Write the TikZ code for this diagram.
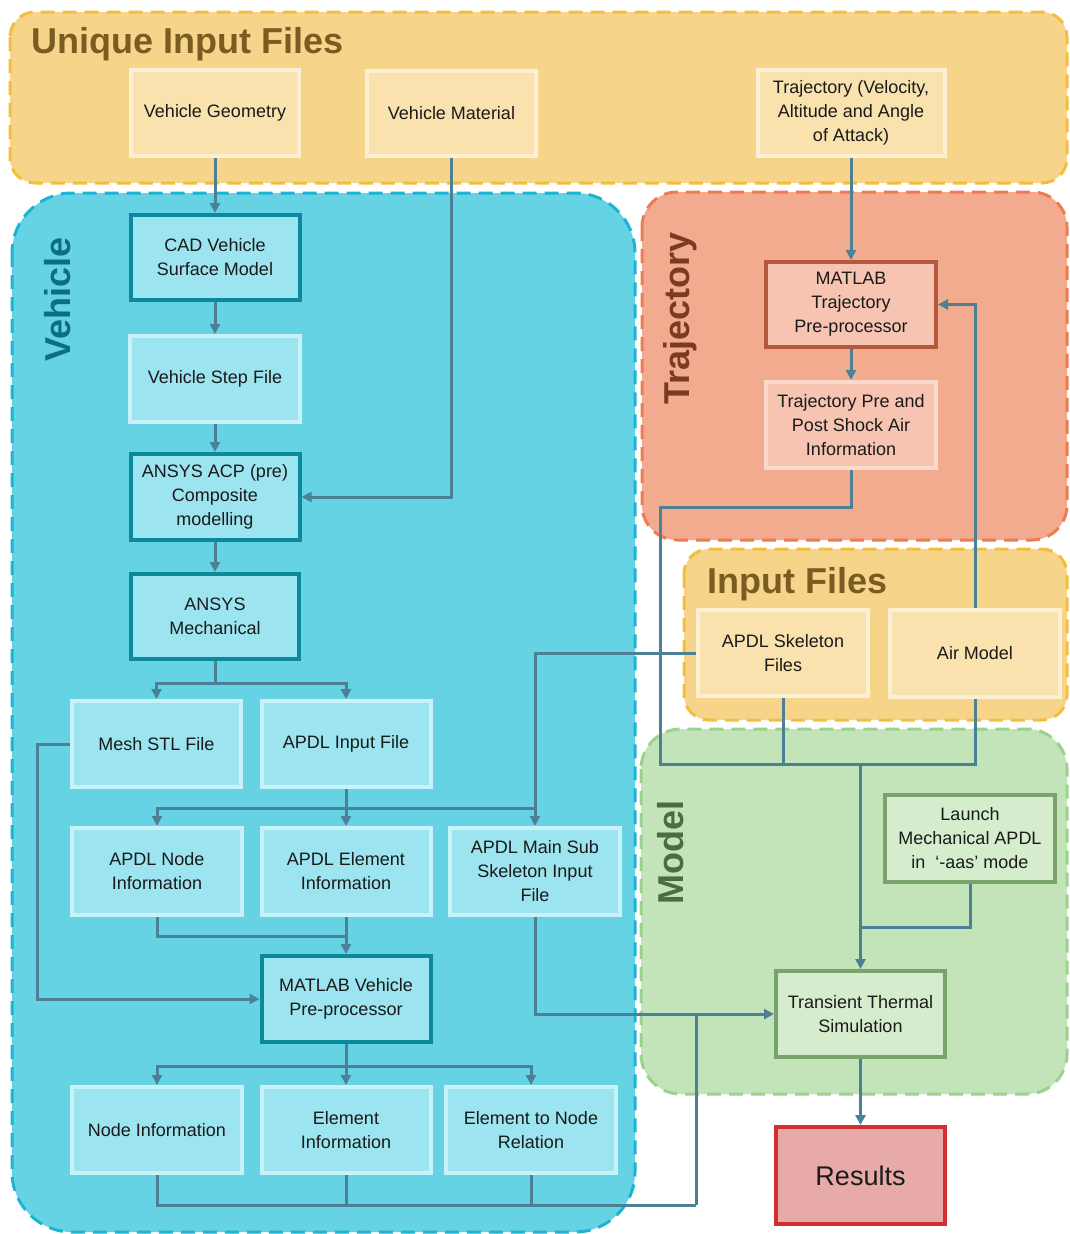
\documentclass[tikz,border=0pt]{standalone}
\usepackage{fontspec}
\setmainfont{Liberation Sans}
\usetikzlibrary{arrows.meta}
\definecolor{ufill}{HTML}{F6D58A}
\definecolor{uborder}{HTML}{F2BE3E}
\definecolor{yfill}{HTML}{F9E2AE}
\definecolor{yborder}{HTML}{FCEFD2}
\definecolor{vfill}{HTML}{66D3E5}
\definecolor{vborder}{HTML}{1DB4D4}
\definecolor{bfill}{HTML}{9CE4EF}
\definecolor{bborder}{HTML}{C8F2F8}
\definecolor{bdark}{HTML}{0C8A9C}
\definecolor{tfill}{HTML}{F2AB8E}
\definecolor{tborder}{HTML}{EE7B52}
\definecolor{trfill}{HTML}{F6C4B0}
\definecolor{trborder}{HTML}{FADAC9}
\definecolor{trdark}{HTML}{B5573A}
\definecolor{mfill}{HTML}{C3E3B9}
\definecolor{mborder}{HTML}{9BD28F}
\definecolor{gfill}{HTML}{D6EDCD}
\definecolor{gdark}{HTML}{78A36C}
\definecolor{rfill}{HTML}{E8A9A9}
\definecolor{rdark}{HTML}{D0302F}
\definecolor{conncol}{HTML}{4B8095}
\definecolor{txt}{HTML}{1A1A1A}
\definecolor{utitle}{HTML}{7A5C22}
\definecolor{vtitle}{HTML}{0D6E80}
\definecolor{ttitle}{HTML}{7B3A22}
\definecolor{mtitle}{HTML}{4B6B43}
\begin{document}
\begin{tikzpicture}[x=1pt,y=-1pt,
  grp/.style={line width=3pt, dash pattern=on 14pt off 8pt},
  box/.style={minimum width=170pt, minimum height=86pt, align=center, inner sep=2pt,
    line width=4pt, font=\fontsize{18}{24}\selectfont, text=txt},
  yel/.style={box, fill=yfill, draw=yborder},
  blight/.style={box, fill=bfill, draw=bborder},
  bdk/.style={box, fill=bfill, draw=bdark},
  trlight/.style={box, fill=trfill, draw=trborder},
  trdk/.style={box, fill=trfill, draw=trdark},
  gdk/.style={box, fill=gfill, draw=gdark},
  title/.style={font=\fontsize{36}{40}\selectfont\bfseries, inner sep=0pt},
  conn/.style={draw=conncol, line width=3pt},
  arr/.style={conn, -{Triangle[length=10pt,width=10pt]}}
]
\useasboundingbox (0,0) rectangle (1069,1234);
% groups
\draw[grp, fill=ufill, draw=uborder, rounded corners=25pt] (10,12) rectangle (1067,183);
\draw[grp, fill=vfill, draw=vborder, rounded corners=60pt] (12,193) rectangle (635,1232);
\draw[grp, fill=tfill, draw=tborder, rounded corners=35pt] (642,192) rectangle (1067,540);
\draw[grp, fill=ufill, draw=uborder, rounded corners=25pt] (684,549) rectangle (1067,720);
\draw[grp, fill=mfill, draw=mborder, rounded corners=40pt] (641,729) rectangle (1067,1094);
% titles
\node[title, text=utitle, anchor=base west] (tu) at (31,53) {Unique Input Files};
\node[title, text=utitle, anchor=base west] (ti) at (707,593) {Input Files};
\node[title, text=vtitle, anchor=base west, rotate=90] (tv) at (70,362) {Vehicle};
\node[title, text=ttitle, anchor=base west, rotate=90] (tt) at (689,405) {Trajectory};
\node[title, text=mtitle, anchor=base west, rotate=90] (tm) at (683,905) {Model};
% nodes
\node[yel, minimum width=168pt] (vg) at (215,113) {Vehicle Geometry};
\node[yel, minimum width=169pt, minimum height=85pt] (vm) at (451.5,113.5) {Vehicle Material};
\node[yel, minimum width=187pt] (traj) at (851,113) {Trajectory (Velocity,\\Altitude and Angle\\of Attack)};
\node[bdk, minimum width=169pt, minimum height=85pt] (cad) at (215,257.5) {CAD Vehicle\\Surface Model};
\node[blight] (step) at (215,379) {Vehicle Step File};
\node[bdk, minimum width=169pt] (acp) at (215,497) {ANSYS ACP (pre)\\Composite\\modelling};
\node[bdk, minimum width=168pt, minimum height=85pt] (mech) at (215,616.5) {ANSYS\\Mechanical};
\node[blight, minimum width=169pt] (mesh) at (156.5,744) {Mesh STL File};
\node[blight, minimum width=169pt] (apdlin) at (346,744) {APDL Input File};
\node[blight, minimum height=87pt] (apnode) at (157,871.5) {APDL Node\\Information};
\node[blight, minimum width=169pt, minimum height=87pt] (apelem) at (346,871.5) {APDL Element\\Information};
\node[blight, minimum height=87pt] (apmain) at (535,871.5) {APDL Main Sub\\Skeleton Input\\File};
\node[bdk, minimum width=169pt] (mveh) at (346,999) {MATLAB Vehicle\\Pre-processor};
\node[blight] (ninfo) at (157,1130) {Node Information};
\node[blight, minimum width=169pt] (einfo) at (346,1130) {Element\\Information};
\node[blight] (e2n) at (531,1130) {Element to Node\\Relation};
\node[trdk, minimum height=85pt] (mtraj) at (851,304.5) {MATLAB\\Trajectory\\Pre-processor};
\node[trlight] (tpps) at (851,425) {Trajectory Pre and\\Post Shock Air\\Information};
\node[yel] (skel) at (783,653) {APDL Skeleton\\Files};
\node[yel, minimum height=87pt] (air) at (975,653.5) {Air Model};
\node[gdk, minimum height=87pt] (launch) at (970,838.5) {Launch\\Mechanical APDL\\in\ \ ‘-aas’ mode};
\node[gdk, minimum width=169pt] (tts) at (860.5,1014) {Transient Thermal\\Simulation};
\node[box, fill=rfill, draw=rdark, minimum width=169pt, minimum height=97pt, font=\fontsize{27}{32}\selectfont] (res) at (860.5,1175.5) {Results};
% junction coordinates
\coordinate (j1) at (215,683);
\coordinate (j2) at (346,808);
\coordinate (j3) at (346,936);
\coordinate (j5) at (346,1066);
\coordinate (j6) at (696,1205);
\coordinate (j7) at (660,507);
\coordinate (j8) at (660,764);
\coordinate (j9) at (860.5,927);
% connectors
\draw[arr] (vg) -- (cad);
\draw[arr] (vm.south) |- (acp.east);
\draw[arr] (traj) -- (mtraj);
\draw[arr] (mtraj) -- (tpps);
\draw[arr] (cad) -- (step);
\draw[arr] (step) -- (acp);
\draw[arr] (acp) -- (mech);
\draw[conn] (mech.south) -- (j1);
\draw[arr] (j1) -| (mesh.north);
\draw[arr] (j1) -| (apdlin.north);
\draw[arr] (apdlin) -- (apelem);
\draw[arr] (j2) -| (apnode.north);
\draw[conn] (j2) -- (j2 -| apmain.north);
\draw[arr] (skel.west) -| (apmain.north);
\draw[conn] (apnode.south) |- (j3);
\draw[arr] (apelem) -- (mveh);
\draw[arr] (mesh.west) -- ++(-33,0) |- (mveh.west);
\draw[conn] (mveh.south) -- (j5);
\draw[arr] (j5) -| (ninfo.north);
\draw[arr] (j5) -- (einfo.north);
\draw[arr] (j5) -| (e2n.north);
\draw[conn] (ninfo.south) |- (j6);
\draw[conn] (einfo.south) -- (einfo.south |- j6);
\draw[conn] (e2n.south) -- (e2n.south |- j6);
\draw[conn] (j6) -- (j6 |- tts.west);
\draw[arr] (apmain.south) |- (tts.west);
\draw[conn] (tpps.south) |- (j7) -- (j8) -| (air.south);
\draw[conn] (skel.south) -- (skel.south |- j8);
\draw[arr] (tts.north |- j8) -- (tts.north);
\draw[conn] (launch.south) |- (j9);
\draw[arr] (air.north) |- (mtraj.east);
\draw[arr] (tts) -- (res);
\end{tikzpicture}
\end{document}
